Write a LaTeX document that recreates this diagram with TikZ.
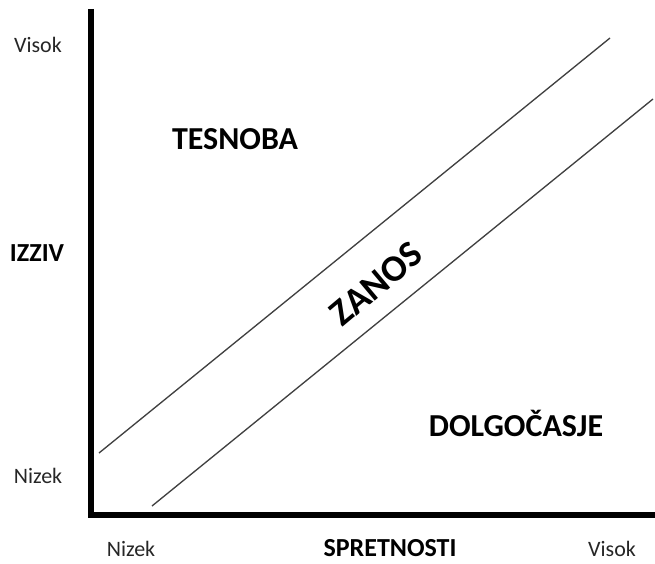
\documentclass[tikz,border=0pt]{standalone}
\usepackage{fontspec}
\setmainfont{Carlito}

\begin{document}
\begin{tikzpicture}[
    x=0.75pt,
    y=-0.75pt,
    axis/.style={
        draw,
        line width=4.5pt,
        color=black
    },
    border/.style={
        draw,
        line width=1pt,
        color=black!75
    },
    tick/.style={
        font=\fontsize{16.5}{18}\selectfont,
        text=black!85
    },
    zone/.style={
        font=\fontsize{24}{28}\selectfont\bfseries
    },
    label/.style={
        font=\fontsize{19.5}{22}\selectfont\bfseries
    }
]

    \useasboundingbox (0,0) rectangle (655,563);

    % --- Axes ---
    \coordinate (top) at (90.5,9);
    \coordinate (origin) at (90.5,515);
    \coordinate (right) at (655,515);
    \path [axis] (top) -- (origin) -- (right);

    % --- Flow channel ---
    \coordinate (upperA) at (99,453);
    \coordinate (upperB) at (610,38);
    \coordinate (lowerA) at (152,506);
    \coordinate (lowerB) at (653,99);
    \path [border] (upperA) -- (upperB);
    \path [border] (lowerA) -- (lowerB);

    % --- Zones ---
    \node [zone] (anxiety) at (235,139) {TESNOBA};
    \node [zone, font=\fontsize{28}{32}\selectfont\bfseries, rotate=40] (flow) at (376,284) {ZANOS};
    \node [zone] (boredom) at (516,423) {DOLGOČASJE};

    % --- Axis labels ---
    \node [label] (challenge) at (37,253) {IZZIV};
    \node [label] (skills) at (390,548) {SPRETNOSTI};
    \node [tick] (yhigh) at (38,45) {Visok};
    \node [tick] (ylow) at (38,476) {Nizek};
    \node [tick] (xlow) at (131,549) {Nizek};
    \node [tick] (xhigh) at (612,549) {Visok};

\end{tikzpicture}
\end{document}
